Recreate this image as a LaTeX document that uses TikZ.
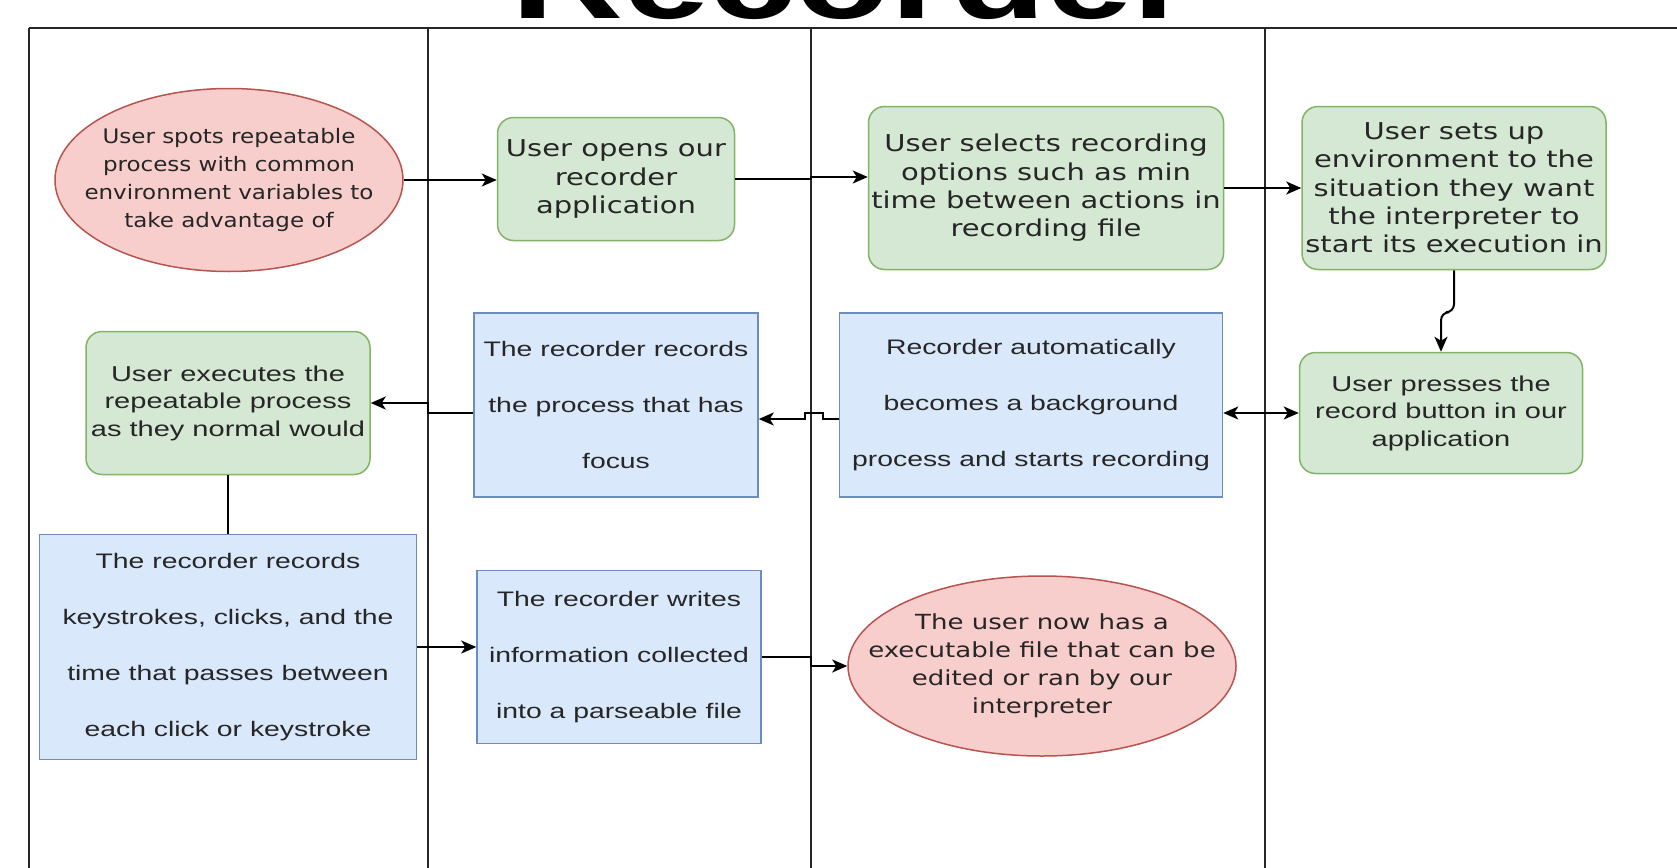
\documentclass[tikz,border=0pt]{standalone}
\usepackage{fontspec}
\usepackage{tikz}
\usetikzlibrary{shapes.geometric,arrows.meta,calc}
\newfontfamily\arialfont[FakeStretch=1.35]{Liberation Sans}
\newfontfamily\verdfont[FakeStretch=1.25]{DejaVu Sans}
\newfontfamily\ellfont[FakeStretch=1.15]{DejaVu Sans}
\definecolor{gfill}{HTML}{D5E8D4}
\definecolor{gline}{HTML}{82B366}
\definecolor{bfill}{HTML}{DAE8FC}
\definecolor{bline}{HTML}{6C8EBF}
\definecolor{rfill}{HTML}{F8CECC}
\definecolor{rline}{HTML}{B85450}

\begin{document}
\begin{tikzpicture}[x=1pt,y=-1pt,
  greenbox/.style={draw=gline,fill=gfill,line width=1.5pt,rounded corners=16pt,align=center,inner sep=0pt,text=black!85,font=\verdfont\fontsize{23.2}{28.3}\selectfont},
  bluebox/.style={draw=bline,fill=bfill,line width=1.5pt,align=center,inner sep=0pt,text=black!85,font=\arialfont\fontsize{21}{56}\selectfont},
  pinkell/.style={ellipse,draw=rline,fill=rfill,line width=1.5pt,align=center,inner xsep=-45pt,inner ysep=0pt,text=black!85},
  flow/.style={line width=2pt,-{Stealth[length=15pt,width=13pt,inset=4pt]}},
  flowboth/.style={line width=2pt,{Stealth[length=15pt,width=13pt,inset=4pt]}-{Stealth[length=15pt,width=13pt,inset=4pt]}},
  lane/.style={line width=2pt,black!85}]
\fill[white] (0,0) rectangle (1677,867);
\useasboundingbox (0,0) rectangle (1677,867);
\clip (0,0) rectangle (1677,867);

\coordinate (lA) at (29,28);
\coordinate (lB) at (428,28);
\coordinate (lC) at (811,28);
\coordinate (lD) at (1265,28);
\coordinate (lE) at (1677,28);
\draw[lane] (lA) -- (lE);
\foreach \l in {lA,lB,lC,lD}
  \draw[lane] (\l) -- ++(0,850);

\node[anchor=base,font=\arialfont\bfseries\fontsize{115}{115}\selectfont] (title) at (852,19) {Recorder};

\node[pinkell,minimum width=348pt,minimum height=183pt,font=\ellfont\fontsize{20}{28}\selectfont] (eA) at (229,180)
  {User spots repeatable\\process with common\\environment variables to\\take advantage of};
\node[greenbox,minimum width=237pt,minimum height=123pt] (gA) at (616,179)
  {User opens our\\recorder\\application};
\node[greenbox,minimum width=355pt,minimum height=163pt] (gB) at (1046,188)
  {User selects recording\\options such as min\\time between actions in\\recording file};
\node[greenbox,minimum width=304pt,minimum height=163pt] (gC) at (1454,188)
  {User sets up\\environment to the\\situation they want\\the interpreter to\\start its execution in};
\node[greenbox,minimum width=283pt,minimum height=121pt,font=\arialfont\fontsize{21.5}{27.5}\selectfont] (gD) at (1441,413)
  {User presses the\\record button in our\\application};
\node[bluebox,minimum width=383pt,minimum height=184pt] (bA) at (1031,405)
  {Recorder automatically\\becomes a background\\process and starts recording};
\node[bluebox,minimum width=284pt,minimum height=184pt] (bB) at (616,405)
  {The recorder records\\the process that has\\focus};
\node[greenbox,minimum width=284pt,minimum height=143pt,font=\arialfont\fontsize{21.5}{27.5}\selectfont] (gE) at (228,403)
  {User executes the\\repeatable process\\as they normal would};
\node[bluebox,minimum width=377pt,minimum height=225pt] (bC) at (228,647)
  {The recorder records\\keystrokes, clicks, and the\\time that passes between\\each click or keystroke};
\node[bluebox,minimum width=284pt,minimum height=173pt] (bD) at (619,657)
  {The recorder writes\\information collected\\into a parseable file};
\node[pinkell,minimum width=388pt,minimum height=180pt,font=\verdfont\fontsize{20.8}{28}\selectfont] (eB) at (1042,666)
  {The user now has a\\executable file that can be\\edited or ran by our\\interpreter};

\coordinate (jA) at (bB.west -| lB);
\coordinate (jB) at ($(bA.west -| lC)+(12,14)$);

\draw[flow] (eA.east) -- (eA.east -| gA.west);
\draw[flow] (gA.east) -- (gA.east -| lC) |- ($(gB.west)+(0,-11)$);
\draw[flow] (gB.east) -- (gB.east -| gC.west);
\draw[flow,rounded corners=8pt] (gC.south) -- ++(0,42) -| (gD.north);
\draw[flowboth] (gD.west) -- (gD.west -| bA.east);
\draw[flow] ($(bA.west)+(0,14)$) -- (jB) -- ++(0,-6) -- ++(-18,0) -- ++(0,6) -- ($(bB.east)+(0,14)$);
\draw[flow] ($(bB.west)+(0,8)$) -- ($(jA)+(0,8)$) |- (gE.east);
\draw[line width=2pt] (gE.south) -- (gE.south |- bC.north);
\draw[flow] (bC.east) -- (bC.east -| bD.west);
\draw[flow] (bD.east) -- (bD.east -| lC) |- (eB.west);
\end{tikzpicture}
\end{document}
